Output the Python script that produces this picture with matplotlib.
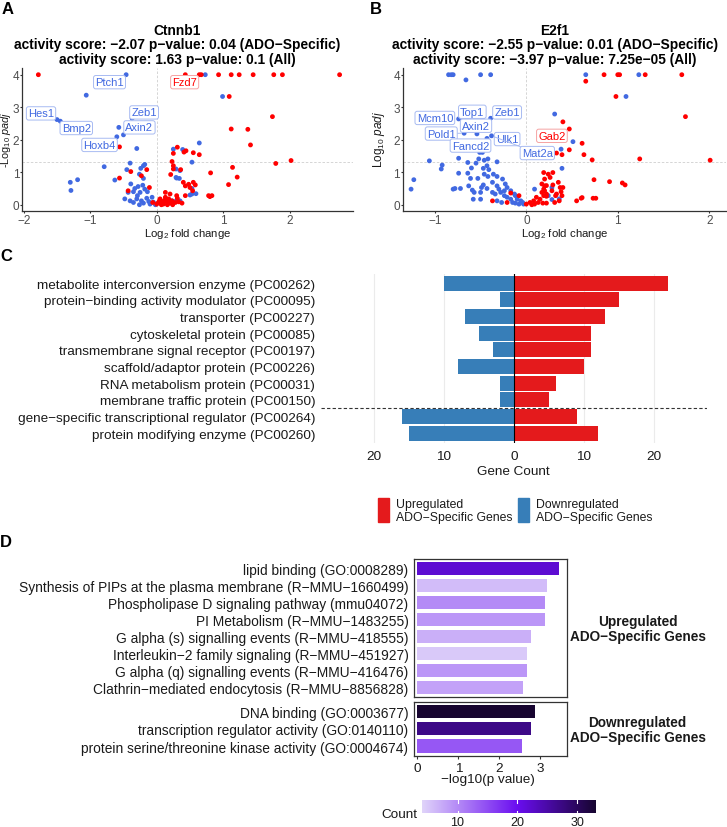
import matplotlib
matplotlib.use('Agg')
import matplotlib.pyplot as plt
import numpy as np
from matplotlib.colors import LinearSegmentedColormap, Normalize
from matplotlib.patches import Rectangle

plt.rcParams['font.family'] = ['Liberation Sans', 'DejaVu Sans']
plt.rcParams['mathtext.fontset'] = 'custom'
plt.rcParams['mathtext.rm'] = 'Liberation Sans'
plt.rcParams['mathtext.it'] = 'Liberation Sans:italic'
plt.rcParams['mathtext.bf'] = 'Liberation Sans:bold'
plt.rcParams['axes.unicode_minus'] = True

# ---------------- DATA ----------------
# Panel A: Ctnnb1 volcano (log2FC, -log10 padj)
A_up = [(-1.78,4),(0.43,4),(0.64,4),(0.67,4),(0.93,4),(1.12,4),(1.24,4),(1.45,4),(1.76,4),(1.89,4),(2.75,4),
        (1.09,3.33),(1.74,2.71),(1.12,2.33),(1.37,2.32),(1.41,1.84),(-0.56,1.78),(2.02,1.36),(1.79,1.27),
        (1.14,1.15),(0.81,0.98),(1.21,0.85),(1.08,0.62),(-0.56,0.82),
        (0.31,1.77),(0.41,1.62),(0.55,1.60),(0.64,1.54),(0.25,1.58),(0.44,1.66),(0.23,1.33),(0.25,1.20),
        (0.21,0.93),(0.36,1.08),(0.25,1.10),(-0.39,1.02),(-0.15,1.08),(-0.23,0.89),(-0.11,0.53),(-0.43,0.43),
        (0.40,0.69),(0.43,0.58),(0.48,0.63),(0.55,0.69),(0.58,0.61),(0.50,0.53),(0.54,0.43),
        (0.78,0.28),(0.80,0.25),(0.83,0.28),(0.30,0.28),(0.31,0.20),(0.43,0.28),
        (-0.06,0.07),(0.025,0.07),(0.10,0.02),(0.15,0.09),(0.20,0.05),(0.05,0.18),(0.13,0.23),(0.18,0.18),
        (0.23,0.12),(0.28,0.07),(0.33,0.09),(0.38,0.05),(0.13,0.38),(0.20,0.33),(0.07,0.0),(0.0,0.02),
        (0.04,0.12),(0.09,0.10),(0.16,0.0),(0.12,0.14),(0.24,0.0)]
A_down = [(-0.46,4),(0.73,4),(-1.06,3.37),(0.99,3.33),(-1.50,2.62),(-1.45,2.57),(-0.37,2.66),(-0.57,2.38),
          (-0.50,2.15),(-0.60,2.09),(-0.30,1.73),(0.64,1.90),(0.25,1.71),(0.39,1.70),(0.53,1.31),(0.29,1.10),
          (0.30,0.82),(0.35,1.05),(0.29,0.84),(0.34,0.81),(0.53,0.33),(0.59,0.34),(0.50,0.30),(0.23,0.12),
          (0.29,0.12),(0.35,0.12),(0.53,0.50),(-0.79,1.17),(-1.19,0.77),(-1.30,0.69),(-1.29,0.44),(-0.63,0.76),
          (-0.40,1.28),(-0.18,1.24),(-0.45,1.08),(-0.20,1.20),(-0.24,1.12),(-0.26,0.94),(-0.20,0.81),
          (-0.39,0.64),(-0.33,0.50),(-0.28,0.56),(-0.21,0.60),(-0.18,0.48),(-0.35,0.40),(-0.43,0.38),
          (-0.25,0.38),(-0.14,0.40),(-0.48,0.18),(-0.40,0.12),(-0.30,0.18),(-0.23,0.12),(-0.15,0.20),
          (-0.07,0.23),(-0.35,0.07),(-0.20,0.05),(-0.10,0.02),(-0.02,0.0),(-0.29,0.28),(-0.12,0.10),
          (-0.05,0.08),(-0.26,0.0)]
A_labels = [("Ptch1", -0.71, 3.77, 'down'), ("Fzd7", 0.42, 3.77, 'up'), ("Hes1", -1.74, 2.81, 'down'),
            ("Zeb1", -0.19, 2.84, 'down'), ("Axin2", -0.26, 2.38, 'down'), ("Bmp2", -1.21, 2.36, 'down'),
            ("Hoxb4", -0.86, 1.84, 'down')]

# Panel B: E2f1 volcano
B_up = [(0.85,4),(1.0,4),(1.02,4),(1.30,4),(1.70,4),(0.65,3.80),(0.98,3.33),(1.74,2.71),
        (0.40,2.55),(0.47,2.33),(0.61,1.89),(0.63,1.54),(0.72,1.38),(1.24,1.41),(2.01,1.37),(0.33,1.59),
        (0.39,1.54),(0.47,1.69),(0.74,0.77),(0.91,0.71),(1.05,0.67),(1.08,0.61),(0.55,0.12),(0.60,0.20),
        (0.61,0.22),(0.73,0.20),(0.76,0.20),
        (0.19,0.99),(0.24,0.94),(0.29,0.99),(0.26,0.84),(0.20,0.79),(0.17,0.64),(0.22,0.59),(0.29,0.61),
        (0.35,0.69),(0.37,0.53),(0.40,0.53),(0.38,0.40),(0.33,0.33),(0.28,0.43),(0.20,0.43),(0.19,0.28),
        (0.22,0.26),(0.32,0.28),(0.36,0.12),(0.18,0.05),(0.22,0.05),(0.31,0.07),(0.39,0.28),
        (0.0,0.02),(0.04,0.07),(0.08,0.12),(0.11,0.23),(0.09,0.02),(0.13,0.07),(0.15,0.17),(0.06,0.0),
        (0.17,0.38),(0.19,0.48),(0.22,0.33),(0.20,0.58),
        (-0.37,0.12),(-0.21,0.07),(-0.08,0.28),(-0.17,0.36)]
B_down = [(-0.85,4),(-0.82,4),(-0.80,4),(-0.50,4),(-0.39,4),(-0.66,3.84),(0.65,4),(1.23,4),(1.09,3.33),
          (0.31,2.79),(0.51,1.94),(0.38,1.71),(0.39,1.12),(0.28,0.53),(0.28,0.16),(0.36,0.18),(0.24,0.28),
          (-0.74,2.64),(-0.48,2.66),(-0.39,2.66),(-0.68,2.20),(-0.54,2.18),(-0.43,2.04),(-0.38,2.12),
          (-0.51,1.61),(-0.48,1.61),(-0.45,1.79),
          (-1.06,1.35),(-0.92,1.22),(-0.93,1.10),(-1.23,0.77),(-1.26,0.48),(-0.74,1.43),(-0.64,1.30),
          (-0.55,1.28),(-0.46,1.37),(-0.42,1.41),(-0.32,1.32),(-0.60,1.13),(-0.74,0.97),(-0.64,0.97),
          (-0.61,0.81),(-0.53,0.81),(-0.47,1.12),(-0.46,0.94),(-0.41,1.08),(-0.42,0.87),(-0.36,0.94),
          (-0.32,0.87),(-0.80,0.48),(-0.78,0.50),(-0.72,0.50),(-0.63,0.58),(-0.59,0.45),(-0.57,0.38),
          (-0.49,0.53),(-0.47,0.61),(-0.43,0.50),(-0.50,0.38),(-0.58,0.17),(-0.50,0.17),(-0.37,0.69),
          (-0.32,0.58),(-0.30,0.48),(-0.26,0.79),(-0.23,0.64),(-0.21,0.53),(-0.28,0.38),(-0.24,0.28),
          (-0.21,0.23),(-0.17,0.43),(-0.13,0.33),(-0.12,0.28),(-0.10,0.17),(-0.06,0.12),(-0.04,0.07),
          (-0.03,0.02),(-0.34,0.33),(-0.37,0.38),(-0.32,0.12),(-0.27,0.07),(-0.17,0.17),(-0.15,0.07),
          (-0.12,0.05),(-0.08,0.02),(-0.24,0.43),(-0.43,1.20),(-0.52,1.41),(0.09,0.48)]
B_labels = [("Mcm10", -1.00, 2.67, 'down', None), ("Top1", -0.59, 2.86, 'down', None),
            ("Zeb1", -0.21, 2.84, 'down', None), ("Axin2", -0.55, 2.43, 'down', None),
            ("Pold1", -0.93, 2.19, 'down', (-0.68, 2.20)), ("Ulk1", -0.21, 2.02, 'down', None),
            ("Fancd2", -0.61, 1.82, 'down', None), ("Gab2", 0.28, 2.12, 'up', None),
            ("Mat2a", 0.12, 1.59, 'down', (-0.38, 2.12))]

# Panel C: PANTHER protein classes
C_classes = ["metabolite interconversion enzyme (PC00262)", "protein\u2212binding activity modulator (PC00095)",
             "transporter (PC00227)", "cytoskeletal protein (PC00085)", "transmembrane signal receptor (PC00197)",
             "scaffold/adaptor protein (PC00226)", "RNA metabolism protein (PC00031)",
             "membrane traffic protein (PC00150)", "gene\u2212specific transcriptional regulator (PC00264)",
             "protein modifying enzyme (PC00260)"]
C_up = [22, 15, 13, 11, 11, 10, 6, 5, 9, 12]
C_down = [10, 2, 7, 5, 3, 8, 2, 2, 16, 15]
C_ticks = [-20, -10, 0, 10, 20]
C_ticklabels = ["20", "10", "0", "10", "20"]

# Panel D: enrichment
D_up_terms = ["lipid binding (GO:0008289)", "Synthesis of PIPs at the plasma membrane (R\u2212MMU\u22121660499)",
              "Phospholipase D signaling pathway (mmu04072)", "PI Metabolism (R\u2212MMU\u22121483255)",
              "G alpha (s) signalling events (R\u2212MMU\u2212418555)", "Interleukin\u22122 family signaling (R\u2212MMU\u2212451927)",
              "G alpha (q) signalling events (R\u2212MMU\u2212416476)", "Clathrin\u2212mediated endocytosis (R\u2212MMU\u22128856828)"]
D_up_logp = [3.46, 3.15, 3.11, 3.11, 2.77, 2.68, 2.67, 2.58]
D_up_count = [22, 6, 10, 9, 7, 5, 9, 8]
D_down_terms = ["DNA binding (GO:0003677)", "transcription regulator activity (GO:0140110)",
                "protein serine/threonine kinase activity (GO:0004674)"]
D_down_logp = [2.86, 2.76, 2.55]
D_down_count = [33, 27, 14]

# ---------------- FIGURE ----------------
W, H = 727, 828
fig = plt.figure(figsize=(W/100, H/100), dpi=100)

def add_ax(l, t, r, b):
    return fig.add_axes([l/W, 1-b/H, (r-l)/W, (b-t)/H])

def ftext(px, py, s, **kw):
    return fig.text(px/W, 1-py/H, s, **kw)

RED = '#FF0000'
BLUE = '#4169E1'
LRED = '#F5A3A3'
LBLUE = '#A8BBF2'

def volcano(ax, up, down, xlim, xticks):
    ux, uy = zip(*up)
    dx, dy = zip(*down)
    ax.axvline(0, color='#cfcfcf', lw=0.6, ls=(0, (3, 2)), zorder=0)
    ax.axhline(-np.log10(0.05), color='#cfcfcf', lw=0.6, ls=(0, (3, 2)), zorder=0)
    ax.scatter(dx, dy, s=12, color=BLUE, edgecolors='none', zorder=2)
    ax.scatter(ux, uy, s=12, color=RED, edgecolors='none', zorder=2)
    ax.set_xlim(*xlim)
    ax.set_ylim(-0.18, 4.2)
    ax.set_xticks(xticks)
    ax.set_yticks([0, 1, 2, 3, 4])
    for sp in ['top', 'right']:
        ax.spines[sp].set_visible(False)
    for sp in ['left', 'bottom']:
        ax.spines[sp].set_color('#333333')
        ax.spines[sp].set_linewidth(0.9)
    ax.tick_params(length=1.5, width=0.8, color='#333333', labelsize=8.5, labelcolor='#4d4d4d', pad=0.8)

def put_label(ax, text, x, y, kind, pt=None):
    col = RED if kind == 'up' else BLUE
    ec = LRED if kind == 'up' else LBLUE
    bbox = dict(boxstyle='round,pad=0.15,rounding_size=0.2', fc='white', ec=ec, lw=0.7)
    if pt is None:
        ax.text(x, y, text, color=col, fontsize=8, ha='center', va='center', bbox=bbox, zorder=4)
    else:
        ax.annotate(text, xy=pt, xytext=(x, y), color=col, fontsize=8, ha='center', va='center',
                    bbox=bbox, zorder=4,
                    arrowprops=dict(arrowstyle='-', color=ec, lw=0.7, shrinkA=0, shrinkB=2))

# Panel A
axA = add_ax(22.4, 69.2, 352.9, 211.6)
volcano(axA, A_up, A_down, (-2.02, 2.95), [-2, -1, 0, 1, 2])
for t, x, y, k in A_labels:
    put_label(axA, t, x, y, k)
ftext(6.2, 140, r'-Log$_{10}$ $\mathit{padj}$', rotation=90, ha='center', va='center', fontsize=7.8, color='#1a1a1a')
ftext(188, 234, r'Log$_2$ fold change', ha='center', va='center', fontsize=8.2, color='#1a1a1a')
ftext(177.5, 30.7, 'Ctnnb1', ha='center', va='center', fontsize=9.9, fontweight='bold')
ftext(177.5, 45.2, 'activity score: \u22122.07 p\u2212value: 0.04 (ADO\u2212Specific)', ha='center', va='center', fontsize=9.9, fontweight='bold')
ftext(177.5, 59.7, 'activity score: 1.63 p\u2212value: 0.1 (All)', ha='center', va='center', fontsize=9.9, fontweight='bold')

# Panel B
axB = add_ax(403.3, 69.2, 725.7, 211.6)
volcano(axB, B_up, B_down, (-1.345, 2.18), [-1, 0, 1, 2])
for t, x, y, k, pt in B_labels:
    put_label(axB, t, x, y, k, pt)
ftext(379, 140, r'Log$_{10}$ $\mathit{padj}$', rotation=90, ha='center', va='center', fontsize=8.5, color='#1a1a1a')
ftext(565, 234, r'Log$_2$ fold change', ha='center', va='center', fontsize=8.2, color='#1a1a1a')
ftext(554.5, 30.7, 'E2f1', ha='center', va='center', fontsize=9.9, fontweight='bold')
ftext(554.5, 45.2, 'activity score: \u22122.55 p\u2212value: 0.01 (ADO\u2212Specific)', ha='center', va='center', fontsize=9.9, fontweight='bold')
ftext(554.5, 59.7, 'activity score: \u22123.97 p\u2212value: 7.25e\u221205 (All)', ha='center', va='center', fontsize=9.9, fontweight='bold')

# Panel C
axC = add_ax(320.8, 275, 707, 443.6)
yC = np.arange(len(C_classes))
axC.barh(yC, C_up, height=0.9, color='#E41A1C', zorder=2)
axC.barh(yC, [-v for v in C_down], height=0.9, color='#377EB8', zorder=2)
axC.axvline(0, color='black', lw=0.8, zorder=3)
axC.axhline(7.5, color='#333333', lw=0.8, ls=(0, (3, 2)), zorder=3)
axC.set_xlim(-27.6, 27.6)
axC.set_ylim(len(C_classes) - 0.44, -0.56)
axC.set_xticks(C_ticks)
axC.set_xticklabels(C_ticklabels)
axC.set_yticks(yC)
axC.set_yticklabels(C_classes)
axC.grid(axis='x', color='#ebebeb', lw=0.8, zorder=0)
axC.set_axisbelow(True)
for sp in axC.spines.values():
    sp.set_visible(False)
axC.tick_params(length=0, labelsize=9.7, labelcolor='#1a1a1a')
axC.tick_params(axis='y', pad=4)
axC.tick_params(axis='x', pad=5)
ftext(513.2, 471.7, 'Gene Count', ha='center', va='center', fontsize=9.7, color='#1a1a1a')
# legend
fig.add_artist(Rectangle((377.8/W, 1-522.7/H), 11.6/W, 23.4/H, transform=fig.transFigure, color='#E41A1C'))
fig.add_artist(Rectangle((517.8/W, 1-522.7/H), 11.6/W, 23.4/H, transform=fig.transFigure, color='#377EB8'))
ftext(396.4, 505, 'Upregulated', ha='left', va='center', fontsize=8.8, color='#1a1a1a')
ftext(396.4, 517.5, 'ADO\u2212Specific Genes', ha='left', va='center', fontsize=8.8, color='#1a1a1a')
ftext(536.4, 505, 'Downregulated', ha='left', va='center', fontsize=8.8, color='#1a1a1a')
ftext(536.4, 517.5, 'ADO\u2212Specific Genes', ha='left', va='center', fontsize=8.8, color='#1a1a1a')

# Panel D
cmap = LinearSegmentedColormap.from_list('cnt', [(0, '#E0D4FA'), (0.55, '#6A0DF0'), (1.0, '#170530')])
norm = Normalize(vmin=4, vmax=33)

def enrich(ax, terms, vals, counts, show_x):
    y = np.arange(len(terms))
    ax.barh(y, vals, height=0.78, color=cmap(norm(np.array(counts))), zorder=2)
    ax.set_xlim(-0.08, 3.64)
    ax.set_ylim(len(terms) - 0.44, -0.56)
    ax.set_yticks(y)
    ax.set_yticklabels(terms)
    ax.set_xticks([0, 1, 2, 3])
    for sp in ax.spines.values():
        sp.set_color('#333333')
        sp.set_linewidth(0.9)
    ax.tick_params(axis='y', length=0, labelsize=9.9, labelcolor='#1a1a1a', pad=4)
    if show_x:
        ax.tick_params(axis='x', length=2.5, width=0.8, color='#333333', labelsize=9.7, labelcolor='#1a1a1a', pad=2)
    else:
        ax.tick_params(axis='x', bottom=False, labelbottom=False)

axD1 = add_ax(414, 560, 566.7, 698.3)
enrich(axD1, D_up_terms, D_up_logp, D_up_count, False)
axD2 = add_ax(414, 702.7, 566.7, 756.7)
enrich(axD2, D_down_terms, D_down_logp, D_down_count, True)
ftext(488, 780, '\u2212log10(p value)', ha='center', va='center', fontsize=9.7, color='#1a1a1a')
for py, s in [(622.3, 'Upregulated'), (637.3, 'ADO\u2212Specific Genes'),
              (722.7, 'Downregulated'), (737.7, 'ADO\u2212Specific Genes')]:
    ftext(637.5, py, s, ha='center', va='center', fontsize=9.8, fontweight='bold', color='#1a1a1a')

# colorbar
axCB = add_ax(421.7, 801, 595, 814.3)
grad = np.linspace(4, 33, 256)[None, :]
axCB.imshow(grad, aspect='auto', cmap=cmap, norm=norm, extent=(4, 33, 0, 1))
for v in [10, 20, 30]:
    axCB.plot([v, v], [0, 0.2], color='white', lw=0.8)
    axCB.plot([v, v], [0.8, 1], color='white', lw=0.8)
axCB.set_xlim(4, 33)
axCB.set_ylim(0, 1)
axCB.set_yticks([])
axCB.set_xticks([10, 20, 30])
axCB.tick_params(axis='x', length=0, labelsize=9, labelcolor='#1a1a1a', pad=2)
for sp in axCB.spines.values():
    sp.set_visible(False)
ftext(417, 815.5, 'Count', ha='right', va='center', fontsize=9.7, color='#1a1a1a')

# panel letters
for px, py, s in [(7.5, 9.2, 'A'), (376, 9.2, 'B'), (6, 256.5, 'C'), (6, 542.5, 'D')]:
    ftext(px, py, s, ha='center', va='center', fontsize=12, fontweight='bold')

fig.savefig('out.png', dpi=100)
